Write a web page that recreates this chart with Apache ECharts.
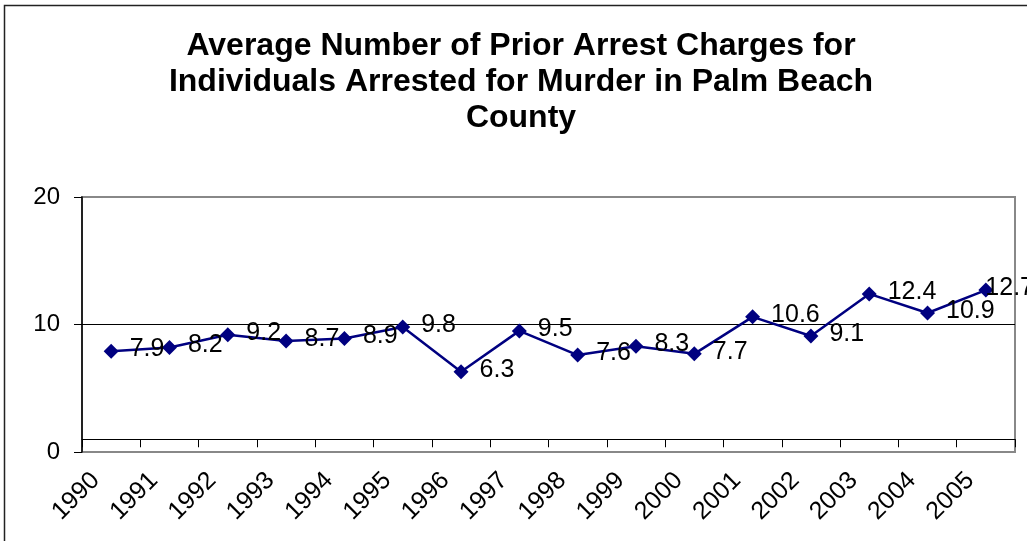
<!DOCTYPE html>
<html>
<head>
<meta charset="utf-8">
<script src="https://cdn.jsdelivr.net/npm/echarts@6/dist/echarts.min.js"></script>
<style>
  html, body { margin: 0; padding: 0; background: #fff; }
  #chart { width: 1027px; height: 541px; }
</style>
</head>
<body>
<div id="chart"></div>
<script>
// chart data
var years = ['1990', '1991', '1992', '1993', '1994', '1995', '1996', '1997',
  '1998', '1999', '2000', '2001', '2002', '2003', '2004', '2005']
var avgCharges = [7.9, 8.2, 9.2, 8.7, 8.9, 9.8, 6.3, 9.5, 7.6, 8.3, 7.7, 10.6, 9.1, 12.4, 10.9, 12.7]
var yTicks = [0, 10, 20]

var font = 'Arial, "Liberation Sans", sans-serif'
var chart = echarts.init(document.getElementById('chart'))

// last label is pulled left so it stays mostly inside the chart, like Excel does
var seriesData = avgCharges.map(function (v, i) {
  if (i === avgCharges.length - 1) {
    return { value: v, label: { offset: [-19, -2] } }
  }
  return v
})

chart.setOption({
  animation: false,
  title: {
    text: 'Average Number of Prior Arrest Charges for\nIndividuals Arrested for Murder in Palm Beach\nCounty',
    left: 521,
    top: 28,
    padding: 0,
    textAlign: 'center',
    textStyle: {
      fontFamily: font,
      fontWeight: 'bold',
      fontSize: 32,
      lineHeight: 36,
      color: '#000'
    }
  },
  // outer chart border
  graphic: [{
    type: 'rect',
    shape: { x: 4.5, y: 5.5, width: 1100, height: 600 },
    style: { fill: 'none', stroke: '#222', lineWidth: 1.5 },
    silent: true
  }],
  grid: {
    left: 82,
    right: 12,
    top: 197,
    bottom: 89,
    show: true,
    borderColor: '#888',
    borderWidth: 2,
    backgroundColor: 'transparent'
  },
  xAxis: {
    type: 'category',
    data: years,
    boundaryGap: true,
    axisLine: { onZero: true, onZeroAxisIndex: 1, lineStyle: { color: '#000', width: 1 } },
    axisTick: { show: true, inside: false, length: 8, alignWithLabel: false, lineStyle: { color: '#000' } },
    axisLabel: {
      rotate: 45,
      margin: 9,
      padding: [0, 22, 0, 0],
      fontFamily: font,
      fontSize: 25,
      color: '#000'
    },
    splitLine: { show: false }
  },
  yAxis: [{
    type: 'value',
    min: yTicks[0],
    max: yTicks[yTicks.length - 1],
    interval: 10,
    axisLine: { show: true, lineStyle: { color: '#000', width: 1.5 } },
    axisTick: { show: true, length: 8, lineStyle: { color: '#000' } },
    axisLabel: { margin: 22, fontFamily: font, fontSize: 24, color: '#000' },
    splitLine: { show: true, lineStyle: { color: ['#888', '#000', '#888'], width: 1 } }
  }, {
    // hidden helper axis so the category axis crosses at 1
    type: 'value',
    min: -1,
    max: 19,
    show: false
  }],
  series: [{
    type: 'line',
    data: seriesData,
    yAxisIndex: 0,
    symbol: 'diamond',
    symbolSize: 15,
    color: '#000080',
    lineStyle: { color: '#000080', width: 2.5 },
    itemStyle: { color: '#000080' },
    label: {
      show: true,
      position: 'right',
      distance: 11,
      offset: [0, -2],
      fontFamily: font,
      fontSize: 25,
      color: '#000'
    }
  }]
})
</script>
</body>
</html>
